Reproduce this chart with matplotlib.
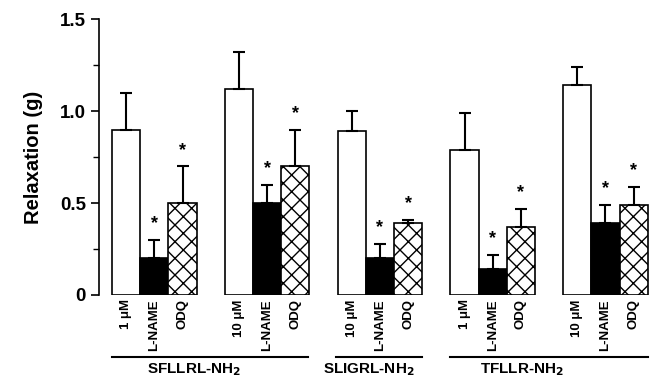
import matplotlib
matplotlib.use("Agg")
import matplotlib.pyplot as plt
import numpy as np

plt.rcParams['font.family'] = ['Liberation Sans', 'DejaVu Sans']
plt.rcParams['font.weight'] = 'bold'
plt.rcParams['hatch.linewidth'] = 1.0

# Data
bar_labels = ["1 \u03bcM", "L-NAME", "ODQ",
              "10 \u03bcM", "L-NAME", "ODQ",
              "10 \u03bcM", "L-NAME", "ODQ",
              "1 \u03bcM", "L-NAME", "ODQ",
              "10 \u03bcM", "L-NAME", "ODQ"]
means = [0.90, 0.20, 0.50,
         1.12, 0.50, 0.70,
         0.89, 0.20, 0.39,
         0.79, 0.14, 0.37,
         1.14, 0.39, 0.49]
errors = [0.20, 0.10, 0.20,
          0.20, 0.10, 0.20,
          0.11, 0.08, 0.02,
          0.20, 0.08, 0.10,
          0.10, 0.10, 0.10]
significant = [False, True, True,
               False, True, True,
               False, True, True,
               False, True, True,
               False, True, True]
groups = ["SFLLRL-NH$_2$", "SLIGRL-NH$_2$", "TFLLR-NH$_2$"]

n_sets = 5
positions = []
for s in range(n_sets):
    positions += [4 * s + k for k in range(3)]
positions = np.array(positions, dtype=float)

fig = plt.figure(figsize=(6.52, 3.78), dpi=100)
ax = fig.add_axes([0.152, 0.2196, 0.848, 0.7294])

for i, (x, m, e) in enumerate(zip(positions, means, errors)):
    kind = i % 3
    if kind == 0:
        fc, hatch = 'white', None
    elif kind == 1:
        fc, hatch = 'black', None
    else:
        fc, hatch = 'white', 'xx'
    ax.bar(x, m, width=1.0, color=fc, edgecolor='black', linewidth=1.2,
           hatch=hatch, zorder=2)
    ax.errorbar(x, m, yerr=[[0], [e]], fmt='none', ecolor='black',
                elinewidth=1.5, capsize=4, capthick=1.5, zorder=3)
    if significant[i]:
        ax.text(x, m + e + 0.04, '*', ha='center', va='bottom',
                fontsize=13, fontweight='bold')

ax.set_xlim(-0.96, 18.65)
ax.set_ylim(0, 1.5)
ax.set_yticks([0, 0.5, 1.0, 1.5])
ax.set_yticklabels(['0', '0.5', '1.0', '1.5'], fontsize=13.5, fontweight='bold')
ax.set_yticks([0.25, 0.75, 1.25], minor=True)
ax.tick_params(axis='y', which='major', length=6, width=1.2, direction='out')
ax.tick_params(axis='y', which='minor', length=4, width=1.0, direction='out')
ax.set_ylabel('Relaxation (g)', fontsize=14.5, fontweight='bold', labelpad=12)

for sp in ['top', 'right', 'bottom']:
    ax.spines[sp].set_visible(False)
ax.spines['left'].set_linewidth(1.2)

ax.set_xticks(positions)
ax.set_xticklabels(bar_labels, rotation=90, fontsize=9.5, fontweight='bold',
                   va='top', ha='center')
ax.tick_params(axis='x', length=0, pad=3)

# group brackets
brackets = [(-0.5, 6.45), (7.45, 10.5), (11.5, 18.5)]
centers = [2.4, 8.6, 14.05]
trans = ax.get_xaxis_transform()
for (x0, x1), c, g in zip(brackets, centers, groups):
    ax.plot([x0, x1], [-0.226, -0.226], color='black', lw=1.5,
            transform=trans, clip_on=False)
    ax.text(c, -0.283, g, transform=trans, ha='center', va='baseline',
            fontsize=11, fontweight='bold')

fig.savefig('out.png', dpi=100)
